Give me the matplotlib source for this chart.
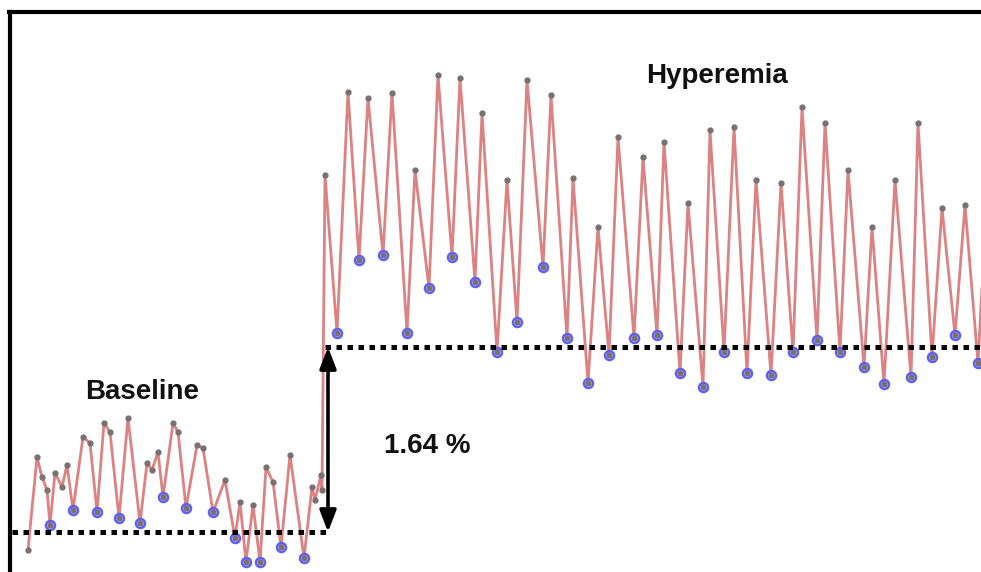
import matplotlib
matplotlib.use("Agg")
import matplotlib.pyplot as plt
from matplotlib.lines import Line2D

# ---- data: time (samples) and relative diameter signal (a.u., baseline = 0) ----
time = [28, 37, 42, 47, 50, 55, 62, 67, 73, 83, 90, 97, 104, 110, 119, 128, 140,
        147, 152, 158, 163, 173, 178, 186, 197, 203, 213, 225, 235, 240, 246, 253,
        260, 266, 273, 281, 290, 304, 312, 315, 321, 322,
        325, 337, 348, 359, 368, 383, 392, 407, 415, 429, 438, 452, 460, 475, 482,
        497, 507, 517, 527, 543, 551, 567, 573, 588, 598, 609, 618, 634, 643, 657,
        664, 680, 688, 703, 710, 724, 734, 747, 756, 771, 781, 793, 802, 817, 825,
        840, 848, 864, 872, 884, 895, 911, 918, 932, 942, 955, 965, 978, 984]
signal = [-18, 75, 55, 42, 7, 59, 45, 67, 22, 95, 89, 20, 109, 100, 14, 114, 9,
          69, 62, 80, 35, 109, 100, 24, 87, 84, 20, 52, -6, 30, -30, 27,
          -30, 65, 50, -15, 77, -26, 45, 32, 57, 42,
          357, 199, 440, 272, 434, 277, 439, 199, 362, 244, 457, 275, 454, 250, 419,
          180, 352, 210, 452, 265, 437, 194, 354, 149, 305, 177, 395, 194, 375, 197,
          390, 159, 329, 145, 402, 180, 405, 159, 352, 157, 349, 180, 425, 192, 409,
          180, 362, 165, 305, 148, 352, 155, 409, 175, 324, 197, 327, 169, 282]

# detected diastolic minima (time, signal)
min_time = [50, 73, 97, 119, 140, 163, 186, 213, 235, 246, 260, 281, 304,
            337, 359, 383, 407, 429, 452, 475, 497, 517, 543, 567, 588, 609, 634,
            657, 680, 703, 724, 747, 771, 793, 817, 840, 864, 884, 911, 932, 955, 978]
min_signal = [7, 22, 20, 14, 9, 35, 24, 20, -6, -30, -30, -15, -26,
              199, 272, 277, 199, 244, 275, 250, 180, 210, 265, 194, 149, 177, 194,
              197, 159, 145, 180, 159, 157, 180, 192, 180, 165, 148, 155, 175, 197, 169]

baseline_level = 0
hyperemia_level = 185
baseline_span = [12, 330]
hyperemia_span = [325, 981]
arrow_time = 328
labels = {"Baseline": (142, 140), "Hyperemia": (717, 456), "1.64 %": (427, 86)}

fig = plt.figure(figsize=(9.81, 5.72), dpi=100)
ax = fig.add_axes([0, 0, 1, 1])
ax.set_xlim(0, 981)
ax.set_ylim(-40, 532)
ax.axis("off")

ax.plot(time, signal, color="#dc8282", lw=2.0, zorder=2,
        marker="o", ms=3.5, mfc="#7a7070", mec="#7a7070")
ax.plot(min_time, min_signal, ls="none", marker="o", ms=6.5, mfc="none",
        mec="#6060ee", mew=1.8, zorder=3)

ax.plot(baseline_span, [baseline_level] * 2, color="black", lw=3.6,
        dashes=(1.1, 1.1), zorder=4)
ax.plot(hyperemia_span, [hyperemia_level] * 2, color="black", lw=3.6,
        dashes=(1.1, 1.1), zorder=4)

ax.annotate("", xy=(arrow_time, hyperemia_level), xytext=(arrow_time, baseline_level),
            arrowprops=dict(arrowstyle="<|-|>,head_length=1.3,head_width=0.5",
                            color="black", lw=2.6, shrinkA=0, shrinkB=0), zorder=5)

for txt, (x, y) in labels.items():
    ax.text(x, y, txt, ha="center", va="center", fontsize=20,
            fontweight="bold", family="Liberation Sans", color="#111111")

# frame
fig.add_artist(Line2D([9 / 981, 1], [1 - 12 / 572] * 2, color="black", lw=3,
                      transform=fig.transFigure))
fig.add_artist(Line2D([10 / 981] * 2, [0, 1 - 12 / 572], color="black", lw=3,
                      transform=fig.transFigure))

fig.savefig("out.png", dpi=100)
